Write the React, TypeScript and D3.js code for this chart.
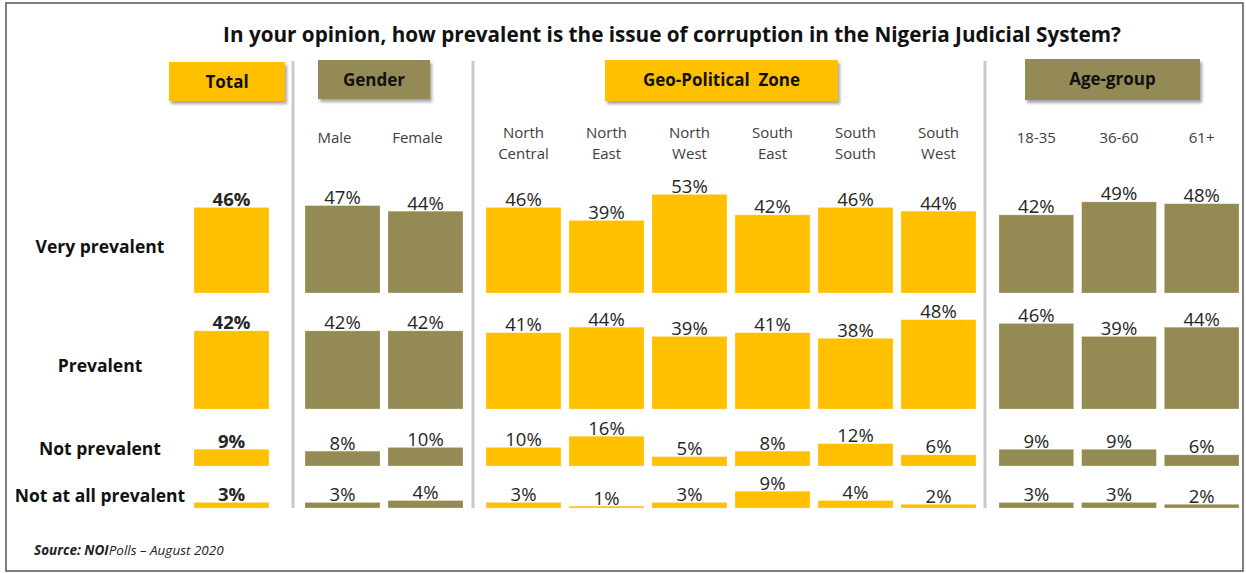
import React from "react";
import * as d3 from "d3";

const title = "In your opinion, how prevalent is the issue of corruption in the Nigeria Judicial System?";
const responses = ["Very prevalent", "Prevalent", "Not prevalent", "Not at all prevalent"];

const groupNames = ["Total", "Gender", "Geo-Political  Zone", "Age-group"];
const totalCats = ["Total"];
const genderCats = ["Male", "Female"];
const zoneCats = ["North Central", "North East", "North West", "South East", "South South", "South West"];
const ageCats = ["18-35", "36-60", "61+"];

// values per response row, in order: Total | Male, Female | NC, NE, NW, SE, SS, SW | 18-35, 36-60, 61+
const veryPrevalent = [46, 47, 44, 46, 39, 53, 42, 46, 44, 42, 49, 48];
const prevalent = [42, 42, 42, 41, 44, 39, 41, 38, 48, 46, 39, 44];
const notPrevalent = [9, 8, 10, 10, 16, 5, 8, 12, 6, 9, 9, 6];
const notAtAll = [3, 3, 4, 3, 1, 3, 9, 4, 2, 3, 3, 2];

const GOLD = "#FFC000";
const OLIVE = "#948A54";
const FONT = "'Open Sans', sans-serif";

export default function App() {
  const W = 1246, H = 573;
  const rows = [veryPrevalent, prevalent, notPrevalent, notAtAll];
  const rowBase = [293, 409, 466, 508];
  const rowLabelY = [253, 372, 455, 502];

  const y = d3.scaleLinear().domain([0, 100]).range([0, 186]);

  const groups = [
    { name: groupNames[0], cats: totalCats, color: GOLD, range: [190, 273], box: [169, 62, 116, 39], labelShift: 0 },
    { name: groupNames[1], cats: genderCats, color: OLIVE, range: [301, 467], box: [318, 60, 112, 39], labelShift: -8 },
    { name: groupNames[2], cats: zoneCats, color: GOLD, range: [482, 980], box: [605, 60, 233, 41], labelShift: 0 },
    { name: groupNames[3], cats: ageCats, color: OLIVE, range: [995, 1243], box: [1025, 59, 175, 41], labelShift: 0 },
  ];

  let offset = 0;
  const cols: { cat: string; x: number; w: number; color: string; idx: number; total: boolean; shift: number }[] = [];
  groups.forEach((g, gi) => {
    const xs = d3.scaleBand<string>().domain(g.cats).range(g.range as [number, number]).paddingInner(8 / 83).paddingOuter(4 / 83);
    g.cats.forEach((c) => {
      cols.push({ cat: c, x: xs(c)!, w: xs.bandwidth(), color: g.color, idx: offset, total: gi === 0, shift: g.labelShift });
      offset++;
    });
  });

  const separators = [293, 473, 985];

  return (
    <svg width={W} height={H} style={{ position: "absolute", left: 0, top: 0, background: "#fff" }} fontFamily={FONT}>
      <defs>
        <filter id="sh" x="-10%" y="-20%" width="130%" height="160%">
          <feDropShadow dx="2" dy="3" stdDeviation="1.5" floodColor="#000" floodOpacity="0.35" />
        </filter>
      </defs>
      <rect x={6} y={3} width={1237} height={568} fill="#fff" stroke="#555" strokeWidth={1.5} />
      <text x={672} y={42} textAnchor="middle" fontSize={20.7} fontWeight={700} fill="#111">{title}</text>

      {groups.map((g) => (
        <g key={g.name}>
          <rect x={g.box[0]} y={g.box[1]} width={g.box[2]} height={g.box[3]} fill={g.color} filter="url(#sh)" />
          <text x={g.box[0] + g.box[2] / 2} y={g.box[1] + 26} textAnchor="middle" fontSize={17} fontWeight={700} fill="#111" xmlSpace="preserve">{g.name}</text>
        </g>
      ))}

      {separators.map((sx) => (
        <rect key={sx} x={sx - 1.5} y={61} width={3} height={447} fill="#c9c9c9" />
      ))}

      {cols.filter((c) => !c.total).map((c) => {
        const parts = c.cat.split(" ");
        const cx = c.x + c.w / 2 + c.shift;
        return parts.length === 1 ? (
          <text key={c.cat} x={cx} y={143} textAnchor="middle" fontSize={15} fill="#404040">{c.cat}</text>
        ) : (
          <text key={c.cat} x={cx} y={138} textAnchor="middle" fontSize={15} fill="#404040">
            <tspan x={cx}>{parts[0]}</tspan>
            <tspan x={cx} dy={21}>{parts[1]}</tspan>
          </text>
        );
      })}

      {responses.map((r, ri) => (
        <text key={r} x={100} y={rowLabelY[ri]} textAnchor="middle" fontSize={17.5} fontWeight={700} fill="#111">{r}</text>
      ))}

      {rows.map((vals, ri) => (
        <g key={ri}>
          {cols.map((c) => {
            const v = vals[c.idx];
            const h = y(v);
            const top = rowBase[ri] - h;
            return (
              <g key={c.cat}>
                <rect x={c.x} y={top} width={c.w} height={h} fill={c.color} stroke="#fff4d0" strokeOpacity={0.5} strokeWidth={0.6} />
                <text x={c.x + c.w / 2} y={top - 1.5} textAnchor="middle" fontSize={18.5} fontWeight={c.total ? 700 : 400} fill="#262626">{v}%</text>
              </g>
            );
          })}
        </g>
      ))}

      <text x={34} y={555} fontSize={13.5} fontStyle="italic" fill="#222">
        <tspan fontWeight={700}>Source: NOI</tspan>
        <tspan>Polls – August 2020</tspan>
      </text>
    </svg>
  );
}
